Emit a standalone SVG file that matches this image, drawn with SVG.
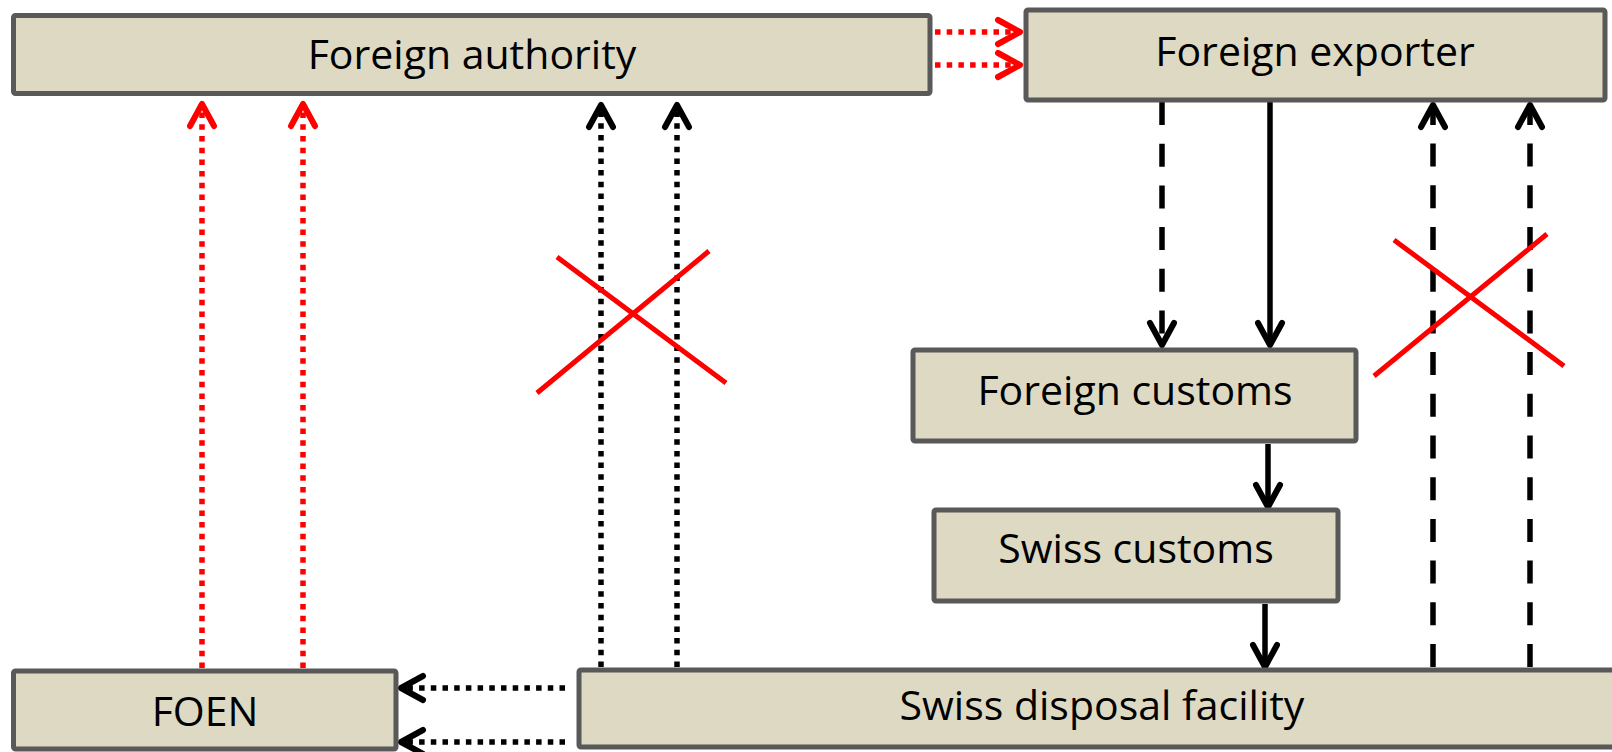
<svg xmlns="http://www.w3.org/2000/svg" width="1612" height="752" viewBox="0 0 1612 752">
<style>
.box{fill:#DDD9C3;stroke:#595959;stroke-width:5}
.lbl{font-family:"Open Sans","Liberation Sans",sans-serif;font-size:41px;fill:#000;text-anchor:middle}
.c{fill:none;stroke-width:5.5}
.red{stroke:#FF0000}
.blk{stroke:#000}
.dot{stroke-dasharray:5.5 6.2}
.dash{stroke-dasharray:23 18.7}
.x{stroke:#FF0000;stroke-width:5;fill:none}
</style>
<defs>
<marker id="ar" markerUnits="userSpaceOnUse" orient="auto" markerWidth="40" markerHeight="40" viewBox="-30 -20 40 40" refX="0" refY="0" overflow="visible">
<path d="M-22,-12 L0,0 L-22,12" fill="none" stroke="#FF0000" stroke-width="6" stroke-linecap="round" stroke-linejoin="round"/>
</marker>
<marker id="ak" markerUnits="userSpaceOnUse" orient="auto" markerWidth="40" markerHeight="40" viewBox="-30 -20 40 40" refX="0" refY="0" overflow="visible">
<path d="M-22,-12 L0,0 L-22,12" fill="none" stroke="#000" stroke-width="6" stroke-linecap="round" stroke-linejoin="round"/>
</marker>
</defs>
<rect width="1612" height="752" fill="#fff"/>
<g id="connectors">
<path class="c red dot" d="M935,32 H1020" marker-end="url(#ar)"/>
<path class="c red dot" d="M935,65 H1020" marker-end="url(#ar)"/>
<path class="c red dot" d="M202,668 V104" marker-end="url(#ar)"/>
<path class="c red dot" d="M303,668 V104" marker-end="url(#ar)"/>
<path class="c blk dot" d="M601,667 V105" marker-end="url(#ak)"/>
<path class="c blk dot" d="M677,667 V105" marker-end="url(#ak)"/>
<path class="c blk dash" d="M1162,102 V345" marker-end="url(#ak)"/>
<path class="c blk" d="M1270,102 V345" marker-end="url(#ak)"/>
<path class="c blk" d="M1268,444 V507" marker-end="url(#ak)"/>
<path class="c blk" d="M1265,604 V667" marker-end="url(#ak)"/>
<path class="c blk dash" d="M1433,667 V105" marker-end="url(#ak)"/>
<path class="c blk dash" d="M1530,667 V105" marker-end="url(#ak)"/>
<path class="c blk dot" d="M565,688 H401" marker-end="url(#ak)"/>
<path class="c blk dot" d="M565,742 H401" marker-end="url(#ak)"/>
</g>
<g id="crosses">
<path class="x" d="M557,257 L726,383 M537,393 L709,251"/>
<path class="x" d="M1394,240 L1564,366 M1374,376 L1547,234"/>
</g>
<g id="foreign-authority">
<rect class="box" x="13.5" y="15.5" width="916.5" height="78" rx="2"/>
<text class="lbl" x="472" y="69">Foreign authority</text>
</g>
<g id="foreign-exporter">
<rect class="box" x="1026" y="10" width="579" height="90" rx="2"/>
<text class="lbl" x="1315" y="66">Foreign exporter</text>
</g>
<g id="foreign-customs">
<rect class="box" x="913" y="350" width="443" height="91" rx="2"/>
<text class="lbl" x="1135" y="405">Foreign customs</text>
</g>
<g id="swiss-customs">
<rect class="box" x="934" y="510" width="404" height="91" rx="2"/>
<text class="lbl" x="1136" y="563">Swiss customs</text>
</g>
<g id="swiss-disposal-facility">
<rect class="box" x="579" y="670" width="1046" height="77" rx="2"/>
<text class="lbl" x="1102" y="720">Swiss disposal facility</text>
</g>
<g id="foen">
<rect class="box" x="13.5" y="671" width="382.5" height="78" rx="2"/>
<text class="lbl" x="205" y="726">FOEN</text>
</g>
</svg>
